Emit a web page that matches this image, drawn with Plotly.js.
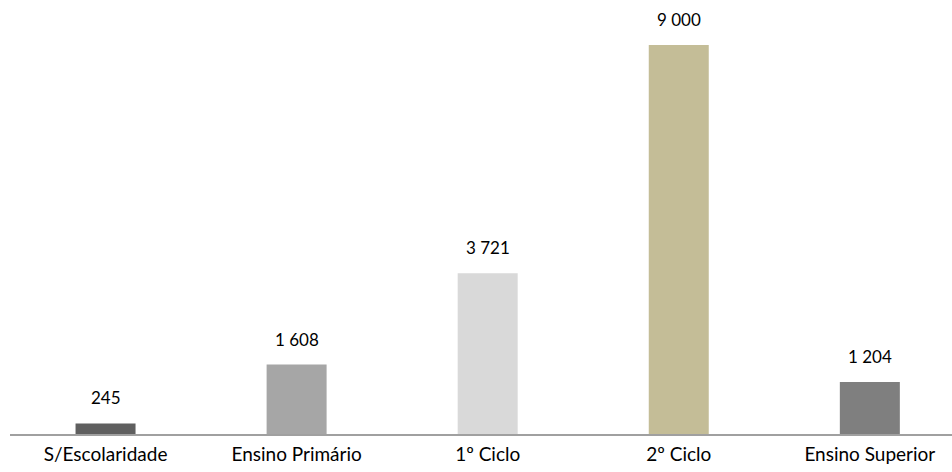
<!DOCTYPE html>
<html><head><meta charset="utf-8">
<script src="https://cdn.plot.ly/plotly-3.0.1.min.js"></script>
<style>body{margin:0;background:#fff}</style>
</head><body>
<div id="chart" style="width:952px;height:472px"></div>
<script>
const categories = ["S/Escolaridade", "Ensino Primário", "1º Ciclo", "2º Ciclo", "Ensino Superior"];
const values = [245, 1608, 3721, 9000, 1204];
const colors = ["#5f5f5f", "#a6a6a6", "#d9d9d9", "#c4bd97", "#7f7f7f"];

const fmt = v => String(v).replace(/\B(?=(\d{3})+(?!\d))/g, " ");

const trace = {
  type: "bar",
  x: categories,
  y: values,
  width: 0.314,
  marker: {color: colors, line: {width: 0}},
  hoverinfo: "none"
};

const annotations = categories.map((c, i) => ({
  x: c, y: values[i], xref: "x", yref: "y",
  text: fmt(values[i]), showarrow: false,
  yanchor: "bottom", yshift: 13,
  font: {family: "Lato, 'Open Sans', sans-serif", size: 17, color: "#000"}
}));

const layout = {
  width: 952, height: 472,
  margin: {l: 10, r: 0, t: 0, b: 38},
  paper_bgcolor: "#fff", plot_bgcolor: "#fff",
  showlegend: false,
  xaxis: {
    range: [-0.5, 4.43],
    showline: true, linecolor: "#a0a0a0", linewidth: 1.5,
    ticks: "", showgrid: false, zeroline: false,
    tickfont: {family: "Lato, 'Open Sans', sans-serif", size: 19, color: "#000"},
    ticklabelstandoff: 3
  },
  yaxis: {
    range: [0, 10041], visible: false, showgrid: false, zeroline: false
  },
  annotations: annotations
};

Plotly.newPlot("chart", [trace], layout, {displayModeBar: false, staticPlot: true});
</script>
</body></html>
